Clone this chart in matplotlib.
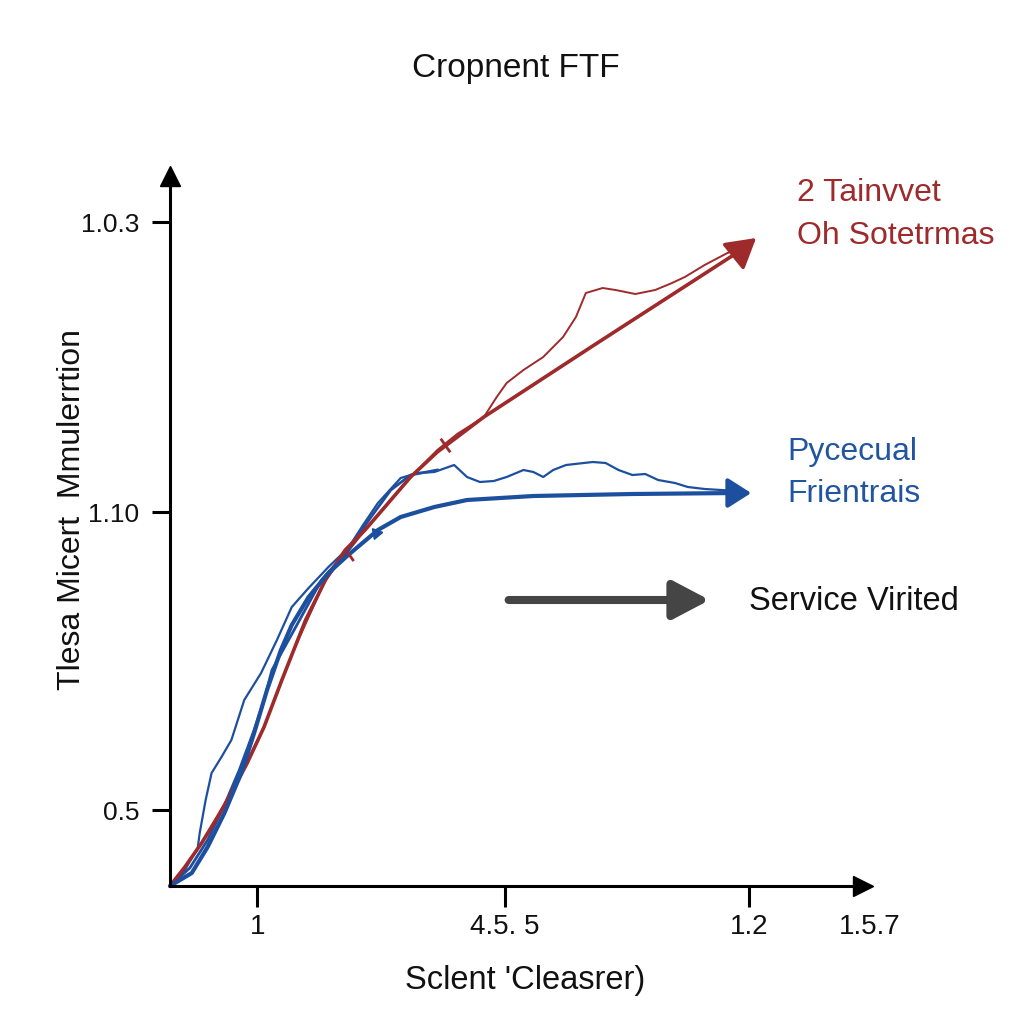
import matplotlib
matplotlib.use("Agg")
import matplotlib.pyplot as plt

plt.rcParams['font.family'] = ['Liberation Sans', 'DejaVu Sans']

# ---- data (chart units: x right from origin, y up from origin) ----
red_thick_x = [0, 15, 32, 48, 62, 78, 95, 113, 125, 137, 157, 177, 197, 217, 243, 270, 317, 430, 577]
red_thick_y = [0, 19, 43, 69, 93, 123, 159, 206, 236, 266, 306, 336, 356, 379, 409, 434, 469, 542, 636]
red_tip = (592, 648)

red_thin_x = [0, 15, 32, 62, 95, 125, 157, 197, 243, 270, 290, 317, 330, 340, 357, 377, 397, 410,
              420, 437, 450, 470, 490, 507, 520, 540, 563, 577]
red_thin_y = [0, 19, 43, 93, 159, 236, 306, 356, 409, 436, 452, 469, 489, 503, 516, 529, 549, 569,
              593, 598, 596, 592, 596, 603, 609, 621, 633, 638]

blue_thick_x = [0, 22, 38, 55, 72, 85, 98, 112, 123, 140, 160, 180, 210, 233, 267, 300, 367, 467, 573]
blue_thick_y = [0, 13, 39, 73, 113, 153, 196, 236, 261, 289, 313, 331, 356, 369, 379, 386, 390, 392, 393]
blue_tip = (587, 393)

blue_mid_x = [0, 20, 38, 55, 70, 85, 95, 103, 127, 153, 180, 203, 223, 243, 270]
blue_mid_y = [0, 18, 46, 81, 116, 156, 186, 216, 259, 306, 336, 369, 396, 411, 416]

blue_thin_x = [0, 15, 28, 30, 36, 42, 52, 62, 75, 92, 108, 123, 140, 160, 180, 195, 210, 233, 250,
               267, 287, 300, 313, 327, 340, 357, 367, 377, 387, 400, 427, 440, 453, 467, 480, 493,
               510, 523, 540, 573]
blue_thin_y = [0, 16, 38, 53, 86, 113, 129, 146, 186, 213, 246, 279, 298, 319, 338, 361, 383, 408, 413,
               414, 421, 409, 404, 405, 409, 416, 414, 409, 416, 421, 424, 423, 416, 411, 412, 406,
               403, 399, 397, 395]

x_ticks = [88, 338, 585, 707]
x_ticklabels = ['1', '4.5. 5', '1.2', '1.5.7']
y_ticks = [76, 374, 664]
y_ticklabels = ['0.5', '1.10', '1.0.3']

RED = '#9e2a2b'
BLUE = '#1d4f9f'

fig = plt.figure(figsize=(10.24, 10.24), dpi=100)
ax = fig.add_axes([170/1024, (1024-886)/1024, 700/1024, 710/1024])
ax.set_xlim(0, 700)
ax.set_ylim(0, 710)

for s in ['top', 'right']:
    ax.spines[s].set_visible(False)
for s in ['left', 'bottom']:
    ax.spines[s].set_linewidth(2.2)
    ax.spines[s].set_color('black')

# axis arrow heads
ax.plot([700], [0], marker='>', markersize=14, color='black', clip_on=False)
ax.plot([0], [710], marker='^', markersize=14, color='black', clip_on=False)

ax.set_xticks(x_ticks)
ax.set_xticklabels(x_ticklabels, fontsize=20, color='#111111')
ax.set_yticks(y_ticks)
ax.set_yticklabels(y_ticklabels, fontsize=19, color='#111111')
ax.tick_params(axis='x', direction='out', length=15, width=2.2, pad=5)
ax.tick_params(axis='y', direction='out', length=13, width=2.2, pad=9)
ax.xaxis.get_major_ticks()[3].tick1line.set_visible(False)

# thin lines
ax.plot(red_thin_x, red_thin_y, color=RED, lw=1.4, clip_on=False)
ax.plot(blue_thin_x, blue_thin_y, color=BLUE, lw=1.6, clip_on=False)
ax.plot(blue_mid_x, blue_mid_y, color=BLUE, lw=2.0, clip_on=False)

# thick lines
ax.plot(red_thick_x, red_thick_y, color=RED, lw=2.6, clip_on=False, solid_capstyle='round')
ax.annotate('', xy=red_tip, xytext=(red_thick_x[-1], red_thick_y[-1]),
            arrowprops=dict(arrowstyle='-|>,head_length=0.6,head_width=0.35', color=RED, lw=2.6,
                            mutation_scale=30, shrinkA=0, shrinkB=0))
ax.plot(blue_thick_x, blue_thick_y, color=BLUE, lw=3.0, clip_on=False, solid_capstyle='round')
ax.annotate('', xy=blue_tip, xytext=(blue_thick_x[-1], blue_thick_y[-1]),
            arrowprops=dict(arrowstyle='-|>,head_length=0.55,head_width=0.35', color=BLUE, lw=3.0,
                            mutation_scale=26, shrinkA=0, shrinkB=0))

# small markers on lines
ax.plot([278], [441], marker=(2, 0, 35), markersize=12, color=RED, mew=2)
ax.plot([182], [330], marker=(2, 0, 35), markersize=8, color=RED, mew=2)
ax.plot([208], [353], marker=(3, 0, -80), markersize=9, color=BLUE)

# gray arrow
ax.annotate('', xy=(545, 286), xytext=(342, 286),
            arrowprops=dict(arrowstyle='-|>,head_length=1.1,head_width=0.58', color='#454545',
                            lw=5.8, mutation_scale=20, shrinkA=0, shrinkB=0))

def ft(x, y, s, **kw):
    fig.text(x/1024, 1 - y/1024, s, **kw)

ft(516, 68, 'Cropnent FTF', ha='center', va='center', fontsize=24, color='#111111')
ft(72, 510, 'Tlesa Micert  Mmulerrtion', ha='center', va='center', rotation=90,
   fontsize=23, color='#111111')
ft(525, 980, "Sclent 'Cleasrer)", ha='center', va='center', fontsize=23.5, color='#111111')

ft(797, 193, '2 Tainvvet', ha='left', va='center', fontsize=23, color=RED)
ft(797, 236, 'Oh Sotetrmas', ha='left', va='center', fontsize=23, color=RED)
ft(787, 452, 'Pycecual', ha='left', va='center', fontsize=23, color='#2255a0')
ft(787, 494, 'Frientrais', ha='left', va='center', fontsize=23, color='#2255a0')
ft(749, 601, 'Service Virited', ha='left', va='center', fontsize=23.5, color='#111111')

fig.savefig('out.png', dpi=100, facecolor='white')
